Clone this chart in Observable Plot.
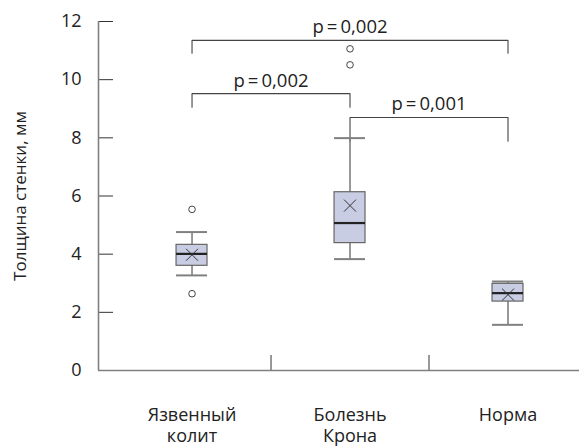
<!DOCTYPE html>
<html>
<head>
<meta charset="utf-8">
<script src="https://cdn.jsdelivr.net/npm/d3@7"></script>
<script src="https://cdn.jsdelivr.net/npm/@observablehq/plot@0.6"></script>
<style>
  html, body { margin: 0; padding: 0; background: #fff; }
  #chart svg { display: block; }
</style>
</head>
<body>
<div id="chart"></div>
<script>
// Categories
const groups = ["Язвенный\nколит", "Болезнь\nКрона", "Норма"];
// Box statistics (mm)
const whiskerLow  = [3.27, 3.83, 1.57];
const q1          = [3.60, 4.38, 2.37];
const median      = [4.01, 5.07, 2.66];
const q3          = [4.32, 6.13, 2.98];
const whiskerHigh = [4.76, 7.99, 3.06];
const means       = [3.98, 5.67, 2.61];
// Outliers
const outlierGroup = [0, 0, 1, 1];
const outlierValue = [5.54, 2.64, 11.06, 10.51];
// Significance brackets
const bracketFrom = [0, 0, 1];
const bracketTo   = [2, 1, 2];
const bracketTop  = [11.35, 9.52, 8.70];
const bracketEnd  = [10.91, 9.05, 7.88];
const bracketText = ["p\u2009=\u20090,002", "p\u2009=\u20090,002", "p\u2009=\u20090,001"];
// Axis ticks
const yTicks = [0, 2, 4, 6, 8, 10, 12];
const separators = [0.5, 1.5];
const yLabel = "Толщина стенки, мм";

const idx = groups.map((_, i) => i);
const half = 0.098;
const xDomain = [-0.592, 2.4525];
const pxPerX = 481 / (xDomain[1] - xDomain[0]);
const pxPerY = 349 / 12;
const font = "'Open Sans', sans-serif";

const boxes = idx.map(i => ({
  i, lo: whiskerLow[i], q1: q1[i], med: median[i], q3: q3[i], hi: whiskerHigh[i], mean: means[i]
}));
const outliers = outlierGroup.map((g, k) => ({g, v: outlierValue[k]}));
const bracketPts = [];
bracketFrom.forEach((f, k) => {
  const t = bracketTo[k];
  bracketPts.push({k, x: f, y: bracketEnd[k]});
  bracketPts.push({k, x: f, y: bracketTop[k]});
  bracketPts.push({k, x: t, y: bracketTop[k]});
  bracketPts.push({k, x: t, y: bracketEnd[k]});
});
const bracketLabels = bracketFrom.map((f, k) => ({x: (f + bracketTo[k]) / 2, y: bracketTop[k], t: bracketText[k]}));

const chart = Plot.plot({
  width: 579,
  height: 446,
  marginLeft: 98,
  marginRight: 0,
  marginTop: 21,
  marginBottom: 76,
  style: {fontFamily: font, fontSize: "18px", color: "#222", background: "#fff"},
  x: {domain: xDomain, axis: null},
  y: {domain: [0, 12], axis: null},
  marks: [
    // y axis labels
    Plot.axisY(yTicks, {tickSize: 0, tickPadding: 17, fontSize: 18, fill: "#222", label: null}),
    // y axis inward ticks
    Plot.ruleY(yTicks, {x1: xDomain[0], x2: xDomain[0] + 15 / pxPerX, stroke: "#333", strokeWidth: 1}),
    // x category labels
    Plot.axisX(idx, {tickSize: 0, tickPadding: 35, tickFormat: i => groups[i], fontSize: 18, fill: "#222", lineHeight: 1.2, label: null}),
    // x separators (upward ticks)
    Plot.ruleX(separators, {y1: 0, y2: 15 / pxPerY, stroke: "#333", strokeWidth: 1}),
    // axis lines
    Plot.ruleX([xDomain[0]], {y1: 0, y2: 12, stroke: "#808080", strokeWidth: 1.6}),
    Plot.ruleY([0], {stroke: "#808080", strokeWidth: 1.6}),
    // y label
    Plot.text([yLabel], {frameAnchor: "left", textAnchor: "middle", rotate: -90, dx: -78, fontSize: 17, fill: "#222"}),
    // brackets
    Plot.line(bracketPts, {x: "x", y: "y", z: "k", stroke: "#444", strokeWidth: 1.1}),
    Plot.text(bracketLabels, {x: "x", y: "y", text: "t", lineAnchor: "bottom", dy: -7, fontSize: 18.5, fill: "#222"}),
    // whiskers
    Plot.ruleX(boxes, {x: "i", y1: "lo", y2: "hi", stroke: "#808080", strokeWidth: 1.6}),
    Plot.ruleY(boxes, {y: "lo", x1: d => d.i - half, x2: d => d.i + half, stroke: "#808080", strokeWidth: 2}),
    Plot.ruleY(boxes, {y: "hi", x1: d => d.i - half, x2: d => d.i + half, stroke: "#808080", strokeWidth: 2}),
    // boxes
    Plot.rect(boxes, {x1: d => d.i - half, x2: d => d.i + half, y1: "q1", y2: "q3", fill: "#c9cde3", stroke: "#666", strokeWidth: 1.2}),
    Plot.ruleY(boxes, {y: "med", x1: d => d.i - half, x2: d => d.i + half, stroke: "#222", strokeWidth: 2.2}),
    // means
    Plot.dot(boxes, {x: "i", y: "mean", symbol: "times", r: 5.5, stroke: "#333", strokeWidth: 1}),
    // outliers
    Plot.dot(outliers, {x: "g", y: "v", r: 3.3, fill: "#fff", stroke: "#444", strokeWidth: 1})
  ]
});
document.getElementById("chart").appendChild(chart);
</script>
</body>
</html>
